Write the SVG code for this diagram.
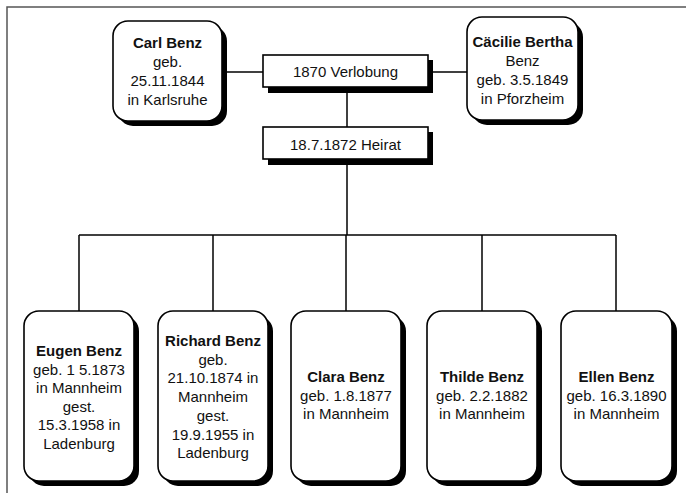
<svg xmlns="http://www.w3.org/2000/svg" width="686" height="493" viewBox="0 0 686 493">
<style>
  .box { fill: #ffffff; stroke: #000000; stroke-width: 1.6; }
  .shadow { fill: #000000; stroke: none; }
  .line { stroke: #000000; stroke-width: 1.5; fill: none; }
  .frame { stroke: #555555; stroke-width: 1.5; fill: none; }
  text { font-family: "Liberation Sans", Arial, sans-serif; font-size: 15px; fill: #111111; text-anchor: middle; }
  .b { font-weight: bold; }
</style>
<rect x="0" y="0" width="686" height="493" fill="#ffffff"/>
<g id="frame">
  <path class="frame" d="M7,493 V7 H686"/>
</g>
<g id="connectors">
  <line class="line" x1="222" y1="72" x2="263" y2="72"/>
  <line class="line" x1="433" y1="72" x2="467" y2="72"/>
  <line class="line" x1="347" y1="93" x2="347" y2="127"/>
  <line class="line" x1="347" y1="165" x2="347" y2="235"/>
  <line class="line" x1="79" y1="235" x2="616" y2="235"/>
  <line class="line" x1="79" y1="235" x2="79" y2="311"/>
  <line class="line" x1="213" y1="235" x2="213" y2="311"/>
  <line class="line" x1="346" y1="235" x2="346" y2="311"/>
  <line class="line" x1="482" y1="235" x2="482" y2="311"/>
  <line class="line" x1="616" y1="235" x2="616" y2="311"/>
</g>
<g id="carl">
  <rect class="shadow" x="118" y="26" width="109" height="100" rx="15"/>
  <rect class="box" x="113" y="21" width="109" height="100" rx="15"/>
  <text x="167.5" y="48" class="b">Carl Benz</text>
  <text x="167.5" y="67">geb.</text>
  <text x="167.5" y="86">25.11.1844</text>
  <text x="167.5" y="105">in Karlsruhe</text>
</g>
<g id="caecilie">
  <rect class="shadow" x="472" y="22" width="111" height="103" rx="15"/>
  <rect class="box" x="467" y="17" width="111" height="103" rx="15"/>
  <text x="522.5" y="47" class="b">Cäcilie Bertha</text>
  <text x="522.5" y="66">Benz</text>
  <text x="522.5" y="85">geb. 3.5.1849</text>
  <text x="522.5" y="104">in Pforzheim</text>
</g>
<g id="verlobung">
  <rect class="shadow" x="268" y="60" width="165" height="33"/>
  <rect class="box" x="263" y="55" width="165" height="32"/>
  <text x="345.5" y="77">1870 Verlobung</text>
</g>
<g id="heirat">
  <rect class="shadow" x="268" y="132" width="165" height="33"/>
  <rect class="box" x="263" y="127" width="165" height="32"/>
  <text x="345.5" y="150">18.7.1872 Heirat</text>
</g>
<g id="eugen">
  <rect class="shadow" x="29" y="316" width="110" height="170" rx="15"/>
  <rect class="box" x="24" y="311" width="110" height="170" rx="15"/>
  <text x="79" y="356" class="b">Eugen Benz</text>
  <text x="79" y="374.5">geb. 1 5.1873</text>
  <text x="79" y="393">in Mannheim</text>
  <text x="79" y="411.5">gest.</text>
  <text x="79" y="430">15.3.1958 in</text>
  <text x="79" y="448.5">Ladenburg</text>
</g>
<g id="richard">
  <rect class="shadow" x="163" y="316" width="110" height="170" rx="15"/>
  <rect class="box" x="158" y="311" width="110" height="170" rx="15"/>
  <text x="213" y="346" class="b">Richard Benz</text>
  <text x="213" y="364.7">geb.</text>
  <text x="213" y="383.4">21.10.1874 in</text>
  <text x="213" y="402.1">Mannheim</text>
  <text x="213" y="420.8">gest.</text>
  <text x="213" y="439.5">19.9.1955 in</text>
  <text x="213" y="458.2">Ladenburg</text>
</g>
<g id="clara">
  <rect class="shadow" x="296" y="316" width="110" height="170" rx="15"/>
  <rect class="box" x="291" y="311" width="110" height="170" rx="15"/>
  <text x="346" y="382" class="b">Clara Benz</text>
  <text x="346" y="400.5">geb. 1.8.1877</text>
  <text x="346" y="419">in Mannheim</text>
</g>
<g id="thilde">
  <rect class="shadow" x="432" y="316" width="110" height="170" rx="15"/>
  <rect class="box" x="427" y="311" width="110" height="170" rx="15"/>
  <text x="482" y="382" class="b">Thilde Benz</text>
  <text x="482" y="400.5">geb. 2.2.1882</text>
  <text x="482" y="419">in Mannheim</text>
</g>
<g id="ellen">
  <rect class="shadow" x="566" y="316" width="111" height="170" rx="15"/>
  <rect class="box" x="561" y="311" width="111" height="170" rx="15"/>
  <text x="616.5" y="382" class="b">Ellen Benz</text>
  <text x="616.5" y="400.5">geb. 16.3.1890</text>
  <text x="616.5" y="419">in Mannheim</text>
</g>
</svg>
